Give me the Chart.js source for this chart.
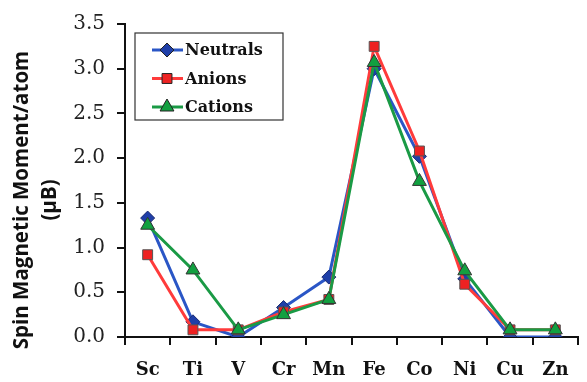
<!DOCTYPE html>
<html>
<head>
<meta charset="utf-8">
<script src="https://cdn.jsdelivr.net/npm/chart.js@4.4.1/dist/chart.umd.min.js"></script>
<style>
  html, body { margin: 0; padding: 0; background: #fff; }
  #wrap { width: 587px; height: 382px; }
</style>
</head>
<body>
<div id="wrap"><canvas id="c" width="587" height="382"></canvas></div>
<script>
// spin moment per atom
const elements = ["Sc", "Ti", "V", "Cr", "Mn", "Fe", "Co", "Ni", "Cu", "Zn"];
const neutrals = [1.33, 0.17, 0.0, 0.33, 0.67, 3.0, 2.02, 0.65, 0.0, 0.0];
const anions   = [0.92, 0.08, 0.08, 0.28, 0.42, 3.25, 2.08, 0.59, 0.08, 0.08];
const cations  = [1.25, 0.75, 0.08, 0.25, 0.42, 3.07, 1.74, 0.74, 0.08, 0.08];
const yTicks = [0, 0.5, 1.0, 1.5, 2.0, 2.5, 3.0, 3.5];

const serif = "'DejaVu Serif', 'Liberation Serif', serif";
const sans = "'Open Sans', 'DejaVu Sans', sans-serif";

// legend box inside the plot, line + marker like excel
const boxLegend = {
  id: "boxLegend",
  afterDraw(chart) {
    const ctx = chart.ctx;
    const x0 = 135, y0 = 33, w = 148, h = 87;
    ctx.save();
    ctx.fillStyle = "#fff";
    ctx.fillRect(x0, y0, w, h);
    ctx.strokeStyle = "#333";
    ctx.lineWidth = 1.2;
    ctx.strokeRect(x0, y0, w, h);
    ctx.font = "bold 16px " + serif;
    ctx.textBaseline = "middle";
    chart.data.datasets.forEach((ds, i) => {
      const cy = y0 + 17 + i * 28.5;
      ctx.strokeStyle = ds.borderColor;
      ctx.lineWidth = 3;
      ctx.beginPath();
      ctx.moveTo(x0 + 17, cy);
      ctx.lineTo(x0 + 48, cy);
      ctx.stroke();
      ctx.fillStyle = ds.pointBackgroundColor;
      ctx.strokeStyle = "#222";
      ctx.lineWidth = 1;
      Chart.helpers.drawPoint(ctx, {pointStyle: ds.pointStyle, radius: ds.pointRadius, borderWidth: 1}, x0 + 32, cy);
      ctx.fillStyle = "#111";
      ctx.fillText(ds.label, x0 + 50, cy + 1);
    });
    ctx.restore();
  }
};

// rotated two-line y title
const yTitle = {
  id: "yTitle",
  afterDraw(chart) {
    const ctx = chart.ctx;
    ctx.save();
    ctx.fillStyle = "#111";
    ctx.font = "bold 20.5px " + sans;
    ctx.textAlign = "center";
    ctx.textBaseline = "middle";
    ctx.translate(22, 200);
    ctx.rotate(-Math.PI / 2);
    ctx.fillText("Spin Magnetic Moment/atom", 0, 0);
    ctx.fillText("(\u03bcB)", 0, 28);
    ctx.restore();
  }
};

new Chart(document.getElementById("c"), {
  type: "line",
  data: {
    labels: elements,
    datasets: [
      {
        label: "Neutrals",
        data: neutrals,
        borderColor: "#2a56c6",
        pointBackgroundColor: "#1f3fa8",
        pointBorderColor: "#1a2a70",
        pointStyle: "rectRot",
        pointRadius: 7,
        order: 3
      },
      {
        label: "Anions",
        data: anions,
        borderColor: "#ff3b3b",
        pointBackgroundColor: "#ee2222",
        pointBorderColor: "#555",
        pointStyle: "rect",
        pointRadius: 7,
        order: 2
      },
      {
        label: "Cations",
        data: cations,
        borderColor: "#1a9a45",
        pointBackgroundColor: "#12a040",
        pointBorderColor: "#333",
        pointStyle: "triangle",
        pointRadius: 8,
        order: 1
      }
    ]
  },
  options: {
    responsive: false,
    animation: false,
    layout: { padding: { top: 8, right: 2, left: 0, bottom: 0 } },
    elements: {
      line: { borderWidth: 3, tension: 0 },
      point: { borderWidth: 1, hoverRadius: 7 }
    },
    plugins: {
      legend: { display: false },
      tooltip: { enabled: false }
    },
    scales: {
      x: {
        offset: true,
        grid: {
          display: true,
          drawOnChartArea: false,
          offset: true,
          color: "#111",
          lineWidth: 2,
          tickLength: 8
        },
        border: { color: "#111", width: 2 },
        ticks: {
          color: "#111",
          font: { family: serif, size: 18, weight: "bold" },
          padding: 15
        },
        afterFit(s) { s.height = 45; }
      },
      y: {
        min: 0,
        max: 3.5,
        afterBuildTicks(s) { s.ticks = yTicks.map(v => ({ value: v })); },
        grid: {
          display: true,
          drawOnChartArea: false,
          color: "#111",
          lineWidth: 2,
          tickLength: 8
        },
        border: { color: "#111", width: 2 },
        ticks: {
          color: "#222",
          font: { family: serif, size: 20 },
          padding: 12,
          callback: v => Number(v).toFixed(1)
        },
        afterFit(s) { s.width = 125; }
      }
    }
  },
  plugins: [boxLegend, yTitle]
});
</script>
</body>
</html>
